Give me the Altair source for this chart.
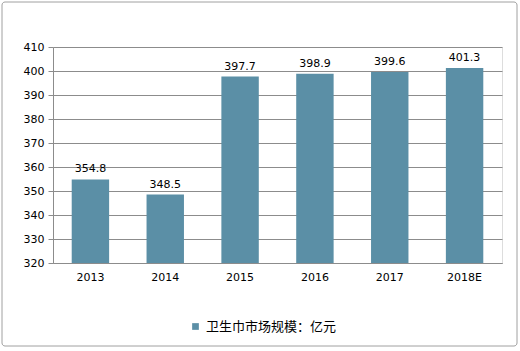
import altair as alt
import pandas as pd

years = ["2013", "2014", "2015", "2016", "2017", "2018E"]
values = [354.8, 348.5, 397.7, 398.9, 399.6, 401.3]
series = "卫生巾市场规模：亿元"
y_ticks = [320, 330, 340, 350, 360, 370, 380, 390, 400, 410]

df = pd.DataFrame({"year": years, "value": values, "series": [series] * len(years)})

FONT = "DejaVu Sans"
CJK = "Noto Sans CJK SC"
BAR = "#5B8FA6"

x_enc = alt.X("year:N", sort=years, title=None,
              scale=alt.Scale(paddingInner=0.5, paddingOuter=0.25),
              axis=alt.Axis(labelAngle=0, ticks=False, labelPadding=8, labelFont=FONT,
                            labelFontSize=11, labelColor="#000", domainColor="#8c8c8c",
                            grid=False))
y_enc = alt.Y("value:Q", title=None,
              scale=alt.Scale(domain=[320, 410], zero=False, clamp=True),
              axis=alt.Axis(values=y_ticks, tickSize=5, tickColor="#8c8c8c",
                            labelPadding=4, labelFont=FONT, labelFontSize=11,
                            labelOverlap=False,
                            labelColor="#000", domainColor="#8c8c8c",
                            gridColor="#8c8c8c", grid=True))

base = alt.Chart(df)

bars = base.mark_bar(color=BAR).encode(
    x=x_enc,
    y=y_enc,
    color=alt.Color("series:N", scale=alt.Scale(range=[BAR]),
                    legend=alt.Legend(title=None, orient="none", legendX=136, legendY=273,
                                      symbolType="square", symbolSize=45,
                                      symbolStrokeWidth=0, labelFont=CJK,
                                      labelFontSize=13, labelColor="#000")),
)

labels = base.mark_text(baseline="bottom", dy=-5, font=FONT, fontSize=11, color="#000").encode(
    x=x_enc,
    y=y_enc,
    text=alt.Text("value:Q", format=".1f"),
)

border = alt.Chart(pd.DataFrame({"a": [0]})).mark_rect(
    fill=None, stroke="#a0a0a0", strokeWidth=1, cornerRadius=3, clip=False
).encode(
    x=alt.value(-51), x2=alt.value(464), y=alt.value(-45), y2=alt.value(299)
)

chart = alt.layer(border, bars, labels).properties(
    width=449, height=216,
    autosize=alt.AutoSizeParams(type="none"),
    padding={"left": 53, "top": 47, "right": 18, "bottom": 88},
).configure_view(stroke=None).configure(background="white")

chart.save("out.html", embed_options={"renderer": "svg", "actions": False})
